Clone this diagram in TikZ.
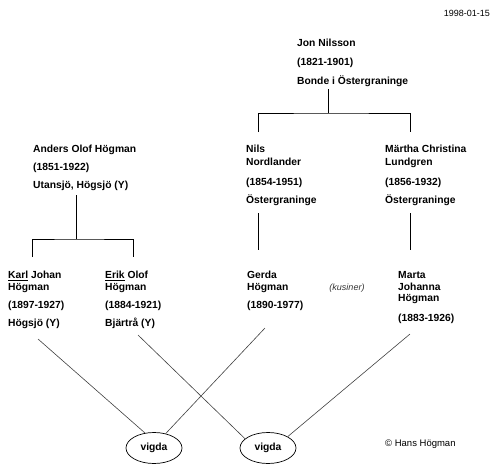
\documentclass[tikz,border=0pt]{standalone}
\usepackage{fontspec}
\setmainfont{Liberation Sans}
\usetikzlibrary{shapes.geometric}

\tikzset{
  txt/.style={anchor=base west, inner sep=0pt, font=\fontsize{10.3}{12}\selectfont\bfseries},
  small/.style={inner sep=0pt, font=\fontsize{9}{11}\selectfont},
  vigda/.style={ellipse, draw, line width=0.7pt, minimum width=56pt, minimum height=31pt, inner sep=0pt,
    font=\fontsize{10.3}{12}\selectfont\bfseries},
  tree/.style={line width=0.9pt},
  wed/.style={line width=0.6pt, black!75}
}

\begin{document}
\begin{tikzpicture}[x=1pt, y=-1pt]
\useasboundingbox (0,0) rectangle (499,466);

\node [small, anchor=base east] (date) at (490,16.5) {1998-01-15};

% top generation
\node [txt] (jon1) at (297,46) {Jon Nilsson};
\node [txt] (jon2) at (297,65) {(1821-1901)};
\node [txt] (jon3) at (297,84) {Bonde i Östergraninge};

% middle generation
\node [txt] (anders1) at (33,152.5) {Anders Olof Högman};
\node [txt] (anders2) at (33,170.5) {(1851-1922)};
\node [txt] (anders3) at (33,188.5) {Utansjö, Högsjö (Y)};

\node [txt] (nils1) at (246,152.5) {Nils};
\node [txt] (nils2) at (246,165.5) {Nordlander};
\node [txt] (nils3) at (246,185.5) {(1854-1951)};
\node [txt] (nils4) at (246,203.5) {Östergraninge};

\node [txt] (martha1) at (385,152.5) {Märtha Christina};
\node [txt] (martha2) at (385,165.5) {Lundgren};
\node [txt] (martha3) at (385,185.5) {(1856-1932)};
\node [txt] (martha4) at (385,203.5) {Östergraninge};

% children
\node [txt] (karl1) at (8,278.5) {\underline{Karl} Johan};
\node [txt] (karl2) at (8,290.5) {Högman};
\node [txt] (karl3) at (8,308.5) {(1897-1927)};
\node [txt] (karl4) at (8,326.5) {Högsjö (Y)};

\node [txt] (erik1) at (105,278.5) {\underline{Erik} Olof};
\node [txt] (erik2) at (105,290.5) {Högman};
\node [txt] (erik3) at (105,308.5) {(1884-1921)};
\node [txt] (erik4) at (105,326.5) {Bjärtrå (Y)};

\node [txt] (gerda1) at (247,278.5) {Gerda};
\node [txt] (gerda2) at (247,290.5) {Högman};
\node [txt] (gerda3) at (247,308.5) {(1890-1977)};

\node [small, anchor=base, black!80] (kusiner) at (347,290.5) {\itshape (kusiner)};

\node [txt] (marta1) at (398,278.5) {Marta};
\node [txt] (marta2) at (398,290.5) {Johanna};
\node [txt] (marta3) at (398,301.5) {Högman};
\node [txt] (marta4) at (398,321.5) {(1883-1926)};

\node [vigda] (vigda1) at (154,448) {vigda};
\node [vigda] (vigda2) at (268,448) {vigda};

\node [small, anchor=base west, font=\fontsize{9.5}{11}\selectfont] (copy) at (385,446.5) {© Hans Högman};

% tree lines
\coordinate (jonfoot) at (328,89);
\coordinate (jonbar) at (328,113);
\coordinate (nilstop) at (258,132);
\coordinate (marthatop) at (410,132);
\coordinate (andersfoot) at (76,195);
\coordinate (andersbar) at (76,239);
\coordinate (karltop) at (32,257);
\coordinate (eriktop) at (133,257);
\coordinate (nilsfoot) at (258,213);
\coordinate (nilsend) at (258,250);
\coordinate (marthafoot) at (410,213);
\coordinate (marthaend) at (410,250);

\begin{scope}[tree]
\draw (jonfoot) -- (jonbar);
\draw (nilstop) |- (jonbar) -| (marthatop);
\draw (andersfoot) -- (andersbar);
\draw (karltop) |- (andersbar) -| (eriktop);
\draw (nilsfoot) -- (nilsend);
\draw (marthafoot) -- (marthaend);
\end{scope}

% marriages
\coordinate (karlfoot) at (38,339);
\coordinate (erikfoot) at (138,335);
\coordinate (gerdafoot) at (265,328);
\coordinate (martafoot) at (410,334);

\begin{scope}[wed]
\draw (karlfoot) -- (vigda1.121);
\draw (gerdafoot) -- (vigda1.51);
\draw (erikfoot) -- (vigda2.158);
\draw (martafoot) -- (vigda2.30);
\end{scope}

\end{tikzpicture}
\end{document}
